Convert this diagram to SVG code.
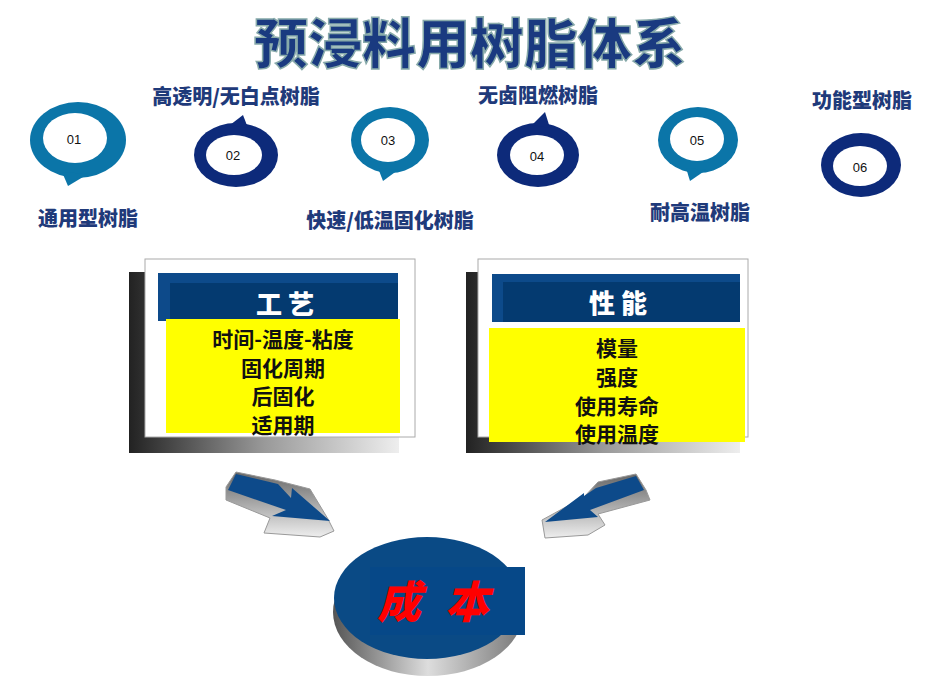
<svg xmlns="http://www.w3.org/2000/svg" width="952" height="690" viewBox="0 0 952 690">
<defs>
<linearGradient id="shade" x1="0" y1="0" x2="1" y2="0"><stop offset="0" stop-color="#222"/><stop offset="0.5" stop-color="#999"/><stop offset="1" stop-color="#eee"/></linearGradient>
<linearGradient id="disk" x1="0" y1="0" x2="1" y2="0"><stop offset="0" stop-color="#555"/><stop offset="0.5" stop-color="#ddd"/><stop offset="1" stop-color="#777"/></linearGradient>
<linearGradient id="arr" x1="0" y1="0" x2="0" y2="1"><stop offset="0" stop-color="#666"/><stop offset="1" stop-color="#eee"/></linearGradient>
</defs>
<style>
.t{font-family:"Noto Sans CJK SC","Liberation Sans",sans-serif;font-weight:900;fill:#1f3a7a}
.lab{font-size:20px}
.num{font-family:"Liberation Sans",sans-serif;font-size:13px;fill:#111;text-anchor:middle}
.lt{fill:#0b75a8}.dk{fill:#0d2a7a}
.y{font-family:"Noto Sans CJK SC",serif;font-weight:bold;font-size:21px;fill:#111;text-anchor:middle}
.h{font-family:"Noto Sans CJK SC",sans-serif;font-weight:900;font-size:26px;fill:#fff;text-anchor:middle}
</style>
<rect width="952" height="690" fill="#fff"/>
<g id="title"><text x="470" y="64" text-anchor="middle" font-family="Noto Sans CJK SC,sans-serif" font-weight="900" font-size="54" fill="#1a3a80" stroke="#8aa" stroke-width="1.5">预浸料用树脂体系</text></g>
<g id="n01"><ellipse cx="78" cy="140" rx="48" ry="38" class="lt"/><path d="M62,172 L68,186 L88,174Z" class="lt"/><ellipse cx="75" cy="138" rx="32" ry="25" fill="#fff"/><text x="74" y="144" class="num">01</text></g>
<g id="n02"><ellipse cx="236" cy="155" rx="42" ry="32" class="dk"/><path d="M230,125 L243,115 L248,128Z" class="dk"/><ellipse cx="234" cy="155" rx="28" ry="20" fill="#fff"/><text x="233" y="160" class="num">02</text></g>
<g id="n03"><ellipse cx="390" cy="140" rx="39" ry="33" class="lt"/><path d="M378,168 L383,181 L398,170Z" class="lt"/><ellipse cx="388" cy="140" rx="27" ry="22" fill="#fff"/><text x="388" y="145" class="num">03</text></g>
<g id="n04"><ellipse cx="538" cy="155" rx="41" ry="32" class="dk"/><path d="M532,125 L545,112 L550,128Z" class="dk"/><ellipse cx="537" cy="155" rx="27" ry="20" fill="#fff"/><text x="537" y="161" class="num">04</text></g>
<g id="n05"><ellipse cx="698" cy="140" rx="40" ry="33" class="lt"/><path d="M686,168 L690,181 L706,170Z" class="lt"/><ellipse cx="697" cy="139" rx="27" ry="22" fill="#fff"/><text x="697" y="145" class="num">05</text></g>
<g id="n06"><ellipse cx="861" cy="165" rx="40" ry="32" class="dk"/><ellipse cx="860" cy="166" rx="27" ry="20" fill="#fff"/><text x="860" y="172" class="num">06</text></g>
<g id="labels">
<text x="236" y="104" text-anchor="middle" class="t lab">高透明/无白点树脂</text>
<text x="538" y="103" text-anchor="middle" class="t lab">无卤阻燃树脂</text>
<text x="862" y="108" text-anchor="middle" class="t lab">功能型树脂</text>
<text x="88" y="226" text-anchor="middle" class="t lab">通用型树脂</text>
<text x="390" y="228" text-anchor="middle" class="t lab">快速/低温固化树脂</text>
<text x="700" y="220" text-anchor="middle" class="t lab">耐高温树脂</text>
</g>
<g id="gongyi">
<rect x="129" y="272" width="270" height="181" fill="url(#shade)"/>
<rect x="145" y="259" width="270" height="178" fill="#fff" stroke="#aaa"/>
<rect x="158" y="273" width="240" height="48" fill="#0d4a8a"/>
<rect x="170" y="283" width="228" height="38" fill="#043a70"/>
<text x="285" y="314" class="h">工 艺</text>
<rect x="166" y="319" width="234" height="114" fill="#ffff00"/>
<text x="283" y="347" class="y">时间-温度-粘度</text>
<text x="283" y="376" class="y">固化周期</text>
<text x="283" y="404" class="y">后固化</text>
<text x="283" y="433" class="y">适用期</text>
</g>
<g id="xingneng">
<rect x="466" y="272" width="274" height="181" fill="url(#shade)"/>
<rect x="478" y="259" width="270" height="178" fill="#fff" stroke="#aaa"/>
<rect x="492" y="274" width="248" height="48" fill="#0d4a8a"/>
<rect x="503" y="282" width="237" height="40" fill="#043a70"/>
<text x="618" y="313" class="h">性 能</text>
<rect x="489" y="328" width="256" height="114" fill="#ffff00"/>
<text x="617" y="356" class="y">模量</text>
<text x="617" y="385" class="y">强度</text>
<text x="617" y="414" class="y">使用寿命</text>
<text x="617" y="442" class="y">使用温度</text>
</g>
<g id="connectors">
<path d="M226,487 L236,472 L275,480 L310,489 L328,519 L334,531 L320,537 L264,533 L270,518 L226,500Z" fill="url(#arr)" stroke="#999"/>
<path d="M236,474 L278,484 L291,498 L292,488 L330,521 L272,516 L286,510 L228,490Z" fill="#0d4a8a"/>
<path d="M646,490 L636,474 L598,482 L584,497 L542,520 L545,538 L588,535 L605,525 L598,514 L650,500Z" fill="url(#arr)" stroke="#999"/>
<path d="M636,476 L596,488 L584,496 L584,493 L545,522 L598,517 L590,510 L644,490Z" fill="#0d4a8a"/>
</g>
<g id="cost">
<ellipse cx="428" cy="612" rx="95" ry="64" fill="url(#disk)"/>
<ellipse cx="427" cy="598" rx="93" ry="61" fill="#0a4a85"/>
<rect x="370" y="567" width="155" height="68" fill="#064888"/>
<text x="445" y="618" text-anchor="middle" font-family="Noto Sans CJK SC,serif" font-weight="900" font-size="44" fill="#ff0000" letter-spacing="24" font-style="italic">成本</text>
</g>
</svg>
